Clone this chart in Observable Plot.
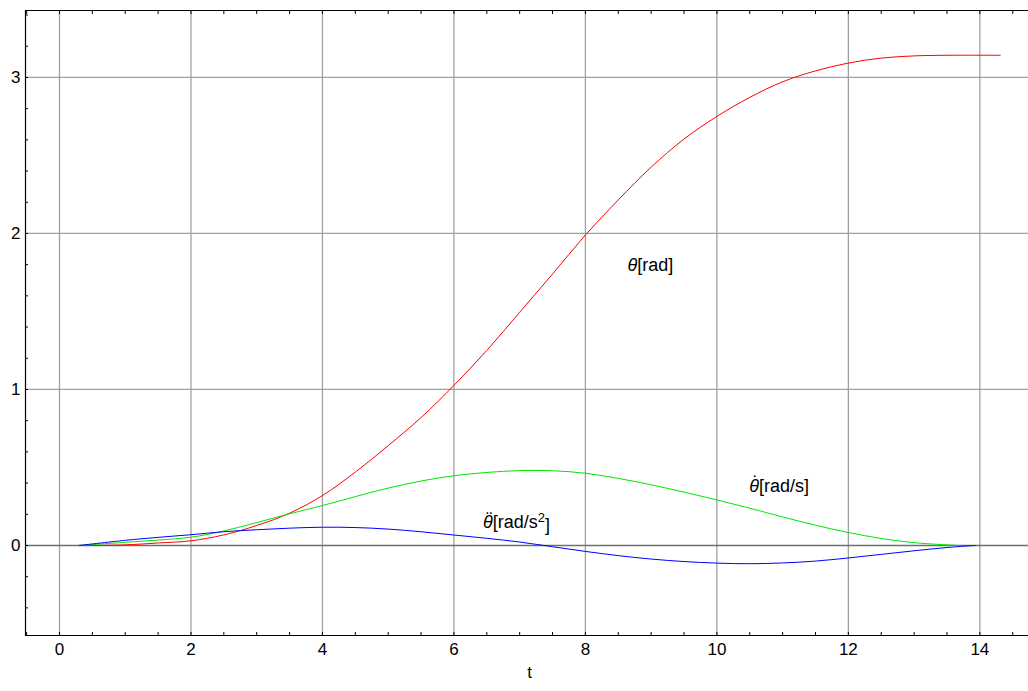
<!DOCTYPE html>
<html>
<head>
<meta charset="utf-8">
<script src="https://cdn.jsdelivr.net/npm/d3@7"></script>
<script src="https://cdn.jsdelivr.net/npm/@observablehq/plot@0.6"></script>
<style>
  html, body { margin: 0; padding: 0; background: #fff; }
  #chart svg { display: block; }
</style>
</head>
<body>
<div id="chart"></div>
<script>
// θ [rad]
const tTheta = [0.3, 1, 1.5, 2, 2.5, 3, 3.5, 4, 4.5, 5, 5.5, 6, 6.5, 7, 7.5, 8, 8.5, 9, 9.5, 10, 10.5, 11, 11.5, 12, 12.5, 13, 13.5, 14.31];
const theta  = [0, 0.004, 0.016, 0.03, 0.068, 0.128, 0.207, 0.32, 0.47, 0.64, 0.82, 1.026, 1.25, 1.495, 1.74, 1.99, 2.215, 2.425, 2.605, 2.75, 2.872, 2.972, 3.042, 3.092, 3.124, 3.138, 3.142, 3.142];
// θ̇ [rad/s]
const tVel = [0.3, 1, 1.5, 2, 2.5, 3, 3.5, 4, 4.5, 5, 5.5, 6, 6.5, 7, 7.5, 8, 8.5, 9, 9.5, 10, 10.5, 11, 11.5, 12, 12.5, 13, 13.5, 13.68];
const vel  = [0, 0.02, 0.035, 0.053, 0.093, 0.147, 0.203, 0.256, 0.313, 0.368, 0.413, 0.447, 0.468, 0.48, 0.479, 0.463, 0.43, 0.389, 0.342, 0.292, 0.239, 0.183, 0.13, 0.083, 0.045, 0.018, 0.004, 0];
// θ̈ [rad/s²]
const tAcc = [0.3, 1, 1.5, 2, 2.5, 3, 3.5, 4, 4.5, 5, 5.5, 6, 6.5, 7, 7.5, 8, 8.5, 9, 9.5, 10, 10.5, 11, 11.5, 12, 12.5, 13, 13.5, 13.93];
const acc  = [0, 0.033, 0.052, 0.069, 0.088, 0.101, 0.111, 0.117, 0.115, 0.105, 0.088, 0.067, 0.046, 0.022, -0.008, -0.038, -0.065, -0.087, -0.103, -0.113, -0.117, -0.112, -0.1, -0.08, -0.057, -0.034, -0.013, 0];

// annotations
const labelT = [8.79, 10.64, 6.59];
const labelV = [1.795, 0.381, 0.147];
const labelSym = ["θ", "θ", "θ"];
const labelAccent = ["", "˙", "¨"];
const labelUnit = ["[rad]", "[rad/s]", "[rad/s²]"];

// ticks
const xTicks = [0, 2, 4, 6, 8, 10, 12, 14];
const yTicks = [0, 1, 2, 3];
const yGrid = [1, 2, 3];
const xMinor = d3.range(-0.5, 14.76, 0.5);
const yMinor = d3.range(-0.4, 3.41, 0.2);

const xDomain = [-0.517, 14.74];
const yDomain = [-0.577, 3.429];

const chart = Plot.plot({
  width: 1028,
  height: 691,
  marginLeft: 25,
  marginRight: 0,
  marginTop: 10,
  marginBottom: 56,
  style: {
    fontFamily: "'Liberation Sans', Arial, sans-serif",
    fontSize: "17px",
    color: "#000",
    background: "#fff",
    overflow: "visible"
  },
  x: { domain: xDomain, label: null },
  y: { domain: yDomain, label: null },
  marks: [
    Plot.gridX(xTicks, { stroke: "#a0a0a0", strokeOpacity: 1, strokeWidth: 1.3 }),
    Plot.gridY(yGrid, { stroke: "#a0a0a0", strokeOpacity: 1, strokeWidth: 1.3 }),
    Plot.ruleY([0], { stroke: "#6e6e6e", strokeWidth: 1.6 }),
    // frame: left, top, bottom
    Plot.ruleX([xDomain[0]], { stroke: "#000", strokeWidth: 1.2 }),
    Plot.ruleY(yDomain, { stroke: "#000", strokeWidth: 1.2 }),
    // minor ticks pointing inward
    Plot.axisX(xMinor, { anchor: "bottom", tickSize: 3, dy: -3, tickFormat: () => "", label: null }),
    Plot.axisX(xMinor, { anchor: "top", tickSize: 3, dy: 3, tickFormat: () => "", label: null }),
    Plot.axisY(yMinor, { anchor: "left", tickSize: 3, dx: 3, tickFormat: () => "", label: null }),
    // tick labels
    Plot.axisX(xTicks, { anchor: "bottom", tickSize: 0, tickPadding: 7, tickFormat: d3.format("d"), label: null }),
    Plot.axisY(yTicks, { anchor: "left", tickSize: 0, tickPadding: 5, tickFormat: d3.format("d"), label: null }),
    // curves
    Plot.line(tTheta, { x: tTheta, y: theta, stroke: "#ff0000", strokeWidth: 1, curve: "catmull-rom" }),
    Plot.line(tVel, { x: tVel, y: vel, stroke: "#00e600", strokeWidth: 1, curve: "catmull-rom" }),
    Plot.line(tAcc, { x: tAcc, y: acc, stroke: "#0000ff", strokeWidth: 1, curve: "catmull-rom" }),
    // annotations
    Plot.text(labelSym, { x: labelT, y: labelV, text: labelSym, textAnchor: "end", fontStyle: "italic", fontSize: 18, fill: "#000" }),
    Plot.text(labelAccent, { x: labelT, y: labelV, text: labelAccent, textAnchor: "middle", dx: -3.5, dy: -3, fontSize: 18, fill: "#000" }),
    Plot.text(labelUnit, { x: labelT, y: labelV, text: labelUnit, textAnchor: "start", fontSize: 18, fill: "#000" }),
    // axis title
    Plot.text(["t"], { frameAnchor: "bottom", dy: 42, dx: 2.5, text: d => d, fontSize: 17, fill: "#000" })
  ]
});

document.getElementById("chart").appendChild(chart);

// render the squared unit with a real superscript
d3.select(chart).selectAll("text").each(function () {
  const el = this;
  if (el.textContent === "[rad/s²]") {
    const sel = d3.select(el);
    sel.text(null);
    sel.append("tspan").text("[rad/s");
    sel.append("tspan").attr("dy", "-0.45em").attr("font-size", "0.72em").text("2");
    sel.append("tspan").attr("dy", "0.45em").text("]");
  }
});
</script>
</body>
</html>
